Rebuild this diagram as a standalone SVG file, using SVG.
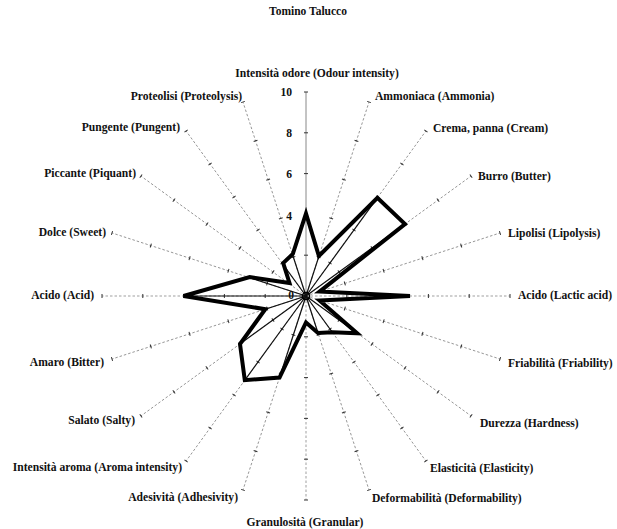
<svg xmlns="http://www.w3.org/2000/svg" xmlns:xlink="http://www.w3.org/1999/xlink" width="617" height="529" viewBox="0 0 617 529">
<style>
text{font-family:"Liberation Serif","Times New Roman",serif;font-size:11.6px;font-weight:bold;fill:#111}
.title{font-size:11.5px}
.ax{stroke:#777;stroke-width:0.7;stroke-dasharray:2.5 2;fill:none}
.axtop{stroke:#888;stroke-width:1;fill:none}
.tk{stroke:#333;stroke-width:1}
.axin{stroke:#111;stroke-width:1.2;fill:none}
.data{fill:none;stroke:#000;stroke-width:4;stroke-linejoin:miter}
</style>
<defs>
<g id="axline"><line x1="306" y1="296" x2="306" y2="92"/></g>
<g id="ticks"><path d="M304 255.2H308M304 214.4H308M304 173.6H308M304 132.8H308M304 92H308"/></g>
<clipPath id="inside"><polygon points="306,213.5 318.9,256 377.4,197.8 405,224.1 319.6,291.6 410,296 319.6,300.4 357.2,333.2 332.4,332.3 318,332.9 306,322.5 279.5,377.5 244.8,380.2 240,344 265.3,309.2 183.6,296 249.7,277 289.5,283 283.2,263 292.8,254"/></clipPath>
</defs>
<g id="title"><text class="title" x="308" y="15" text-anchor="middle">Tomino Talucco</text></g>
<g id="connectors">
<g class="ax">
<use xlink:href="#axline" transform="rotate(18 306 296)"/>
<use xlink:href="#axline" transform="rotate(36 306 296)"/>
<use xlink:href="#axline" transform="rotate(54 306 296)"/>
<use xlink:href="#axline" transform="rotate(72 306 296)"/>
<use xlink:href="#axline" transform="rotate(90 306 296)"/>
<use xlink:href="#axline" transform="rotate(108 306 296)"/>
<use xlink:href="#axline" transform="rotate(126 306 296)"/>
<use xlink:href="#axline" transform="rotate(144 306 296)"/>
<use xlink:href="#axline" transform="rotate(162 306 296)"/>
<use xlink:href="#axline" transform="rotate(180 306 296)"/>
<use xlink:href="#axline" transform="rotate(198 306 296)"/>
<use xlink:href="#axline" transform="rotate(216 306 296)"/>
<use xlink:href="#axline" transform="rotate(234 306 296)"/>
<use xlink:href="#axline" transform="rotate(252 306 296)"/>
<use xlink:href="#axline" transform="rotate(270 306 296)"/>
<use xlink:href="#axline" transform="rotate(288 306 296)"/>
<use xlink:href="#axline" transform="rotate(306 306 296)"/>
<use xlink:href="#axline" transform="rotate(324 306 296)"/>
<use xlink:href="#axline" transform="rotate(342 306 296)"/>
</g>
<g class="axtop"><use xlink:href="#axline"/></g>
<g class="tk">
<use xlink:href="#ticks"/>
<use xlink:href="#ticks" transform="rotate(18 306 296)"/>
<use xlink:href="#ticks" transform="rotate(36 306 296)"/>
<use xlink:href="#ticks" transform="rotate(54 306 296)"/>
<use xlink:href="#ticks" transform="rotate(72 306 296)"/>
<use xlink:href="#ticks" transform="rotate(90 306 296)"/>
<use xlink:href="#ticks" transform="rotate(108 306 296)"/>
<use xlink:href="#ticks" transform="rotate(126 306 296)"/>
<use xlink:href="#ticks" transform="rotate(144 306 296)"/>
<use xlink:href="#ticks" transform="rotate(162 306 296)"/>
<use xlink:href="#ticks" transform="rotate(180 306 296)"/>
<use xlink:href="#ticks" transform="rotate(198 306 296)"/>
<use xlink:href="#ticks" transform="rotate(216 306 296)"/>
<use xlink:href="#ticks" transform="rotate(234 306 296)"/>
<use xlink:href="#ticks" transform="rotate(252 306 296)"/>
<use xlink:href="#ticks" transform="rotate(270 306 296)"/>
<use xlink:href="#ticks" transform="rotate(288 306 296)"/>
<use xlink:href="#ticks" transform="rotate(306 306 296)"/>
<use xlink:href="#ticks" transform="rotate(324 306 296)"/>
<use xlink:href="#ticks" transform="rotate(342 306 296)"/>
</g>
<g class="axin" clip-path="url(#inside)">
<use xlink:href="#axline" transform="rotate(18 306 296)"/>
<use xlink:href="#axline" transform="rotate(36 306 296)"/>
<use xlink:href="#axline" transform="rotate(54 306 296)"/>
<use xlink:href="#axline" transform="rotate(126 306 296)"/>
<use xlink:href="#axline" transform="rotate(144 306 296)"/>
<use xlink:href="#axline" transform="rotate(162 306 296)"/>
<use xlink:href="#axline" transform="rotate(198 306 296)"/>
<use xlink:href="#axline" transform="rotate(216 306 296)"/>
<use xlink:href="#axline" transform="rotate(234 306 296)"/>
<use xlink:href="#axline" transform="rotate(252 306 296)"/>
<use xlink:href="#axline" transform="rotate(270 306 296)"/>
<use xlink:href="#axline" transform="rotate(288 306 296)"/>
<use xlink:href="#axline" transform="rotate(324 306 296)"/>
<use xlink:href="#axline" transform="rotate(342 306 296)"/>
</g>
</g>
<g id="scale">
<text x="292" y="96" text-anchor="end">10</text>
<text x="292" y="137" text-anchor="end">8</text>
<text x="292" y="178" text-anchor="end">6</text>
<text x="292" y="220" text-anchor="end">4</text>
<text x="294" y="299" text-anchor="end">0</text>
</g>
<g id="series">
<polygon class="data" points="306,213.5 318.9,256 377.4,197.8 405,224.1 319.6,291.6 410,296 319.6,300.4 357.2,333.2 332.4,332.3 318,332.9 306,322.5 279.5,377.5 244.8,380.2 240,344 265.3,309.2 183.6,296 249.7,277 289.5,283 283.2,263 292.8,254"/>
<circle cx="306" cy="296" r="3.5" fill="none" stroke="#000" stroke-width="1.5"/>
</g>
<g id="n-odour"><text x="317" y="77" text-anchor="middle">Intensità odore (Odour intensity)</text></g>
<g id="n-ammonia"><text x="375" y="100">Ammoniaca (Ammonia)</text></g>
<g id="n-cream"><text x="433" y="132">Crema, panna (Cream)</text></g>
<g id="n-butter"><text x="478" y="180">Burro (Butter)</text></g>
<g id="n-lipolysis"><text x="508" y="237">Lipolisi (Lipolysis)</text></g>
<g id="n-lactic"><text x="518" y="299">Acido (Lactic acid)</text></g>
<g id="n-friability"><text x="508" y="367">Friabilità (Friability)</text></g>
<g id="n-hardness"><text x="480" y="427">Durezza (Hardness)</text></g>
<g id="n-elasticity"><text x="430" y="472">Elasticità (Elasticity)</text></g>
<g id="n-deform"><text x="372" y="502">Deformabilità (Deformability)</text></g>
<g id="n-granular"><text x="305" y="526" text-anchor="middle">Granulosità (Granular)</text></g>
<g id="n-adhesivity"><text x="238" y="501" text-anchor="end">Adesività (Adhesivity)</text></g>
<g id="n-aroma"><text x="182" y="471" text-anchor="end">Intensità aroma (Aroma intensity)</text></g>
<g id="n-salty"><text x="135" y="424" text-anchor="end">Salato (Salty)</text></g>
<g id="n-bitter"><text x="104" y="366" text-anchor="end">Amaro (Bitter)</text></g>
<g id="n-acid"><text x="94" y="299" text-anchor="end">Acido (Acid)</text></g>
<g id="n-sweet"><text x="106" y="236" text-anchor="end">Dolce (Sweet)</text></g>
<g id="n-piquant"><text x="136" y="177" text-anchor="end">Piccante (Piquant)</text></g>
<g id="n-pungent"><text x="180" y="131" text-anchor="end">Pungente (Pungent)</text></g>
<g id="n-proteolysis"><text x="242" y="100" text-anchor="end">Proteolisi (Proteolysis)</text></g>
</svg>
